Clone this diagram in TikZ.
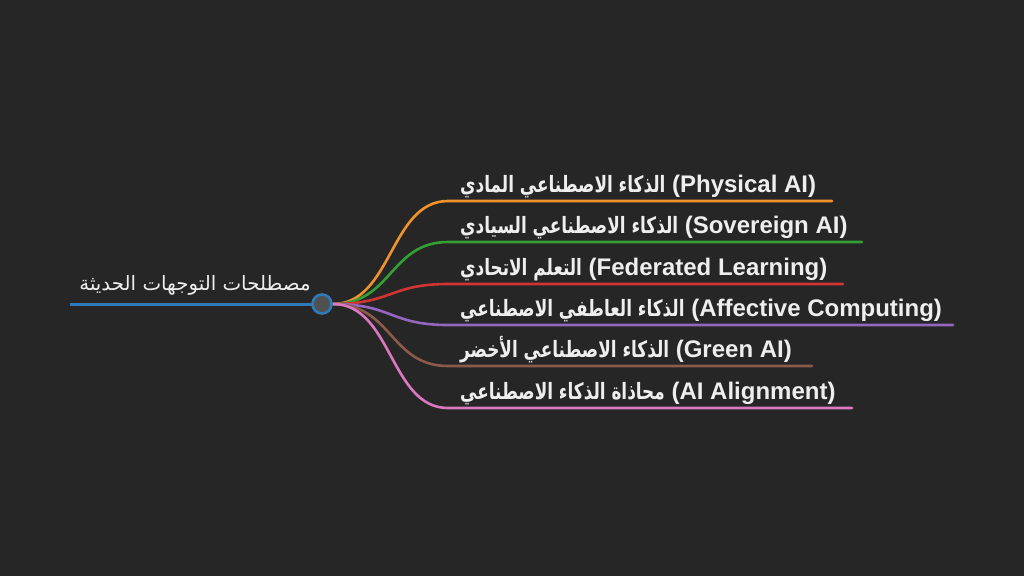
\documentclass[tikz,border=0pt]{standalone}
\usepackage{fontspec}
\setmainfont{Liberation Sans}
\newfontfamily\arabicfont[Script=Arabic, FakeStretch=0.75]{DejaVu Sans}
\newfontfamily\arabicroot[Script=Arabic]{DejaVu Sans}
\TeXXeTstate=1
\definecolor{bg}{HTML}{262626}
\definecolor{rootblue}{HTML}{2E7AB8}
\definecolor{circfill}{HTML}{505050}
\definecolor{cOrange}{HTML}{F0932B}
\definecolor{cGreen}{HTML}{32A032}
\definecolor{cRed}{HTML}{D03434}
\definecolor{cPurple}{HTML}{9466BE}
\definecolor{cBrown}{HTML}{8C5A4B}
\definecolor{cPink}{HTML}{DC78C0}
\definecolor{txt}{HTML}{EEEEEE}
\newcommand{\ar}[1]{{\fontsize{22.5}{26}\arabicfont\bfseries\beginR #1\endR}}
\tikzset{
  lbl/.style={anchor=base west, inner sep=0pt, text=txt, font=\fontsize{24}{28}\selectfont\bfseries},
  rootlbl/.style={anchor=base, inner sep=0pt, text=txt, font=\fontsize{19.8}{23}\selectfont\arabicroot},
  branch/.style={line width=2.6pt, line cap=round},
}
\begin{document}
\begin{tikzpicture}[x=1pt,y=-1pt]
\fill[bg] (0,0) rectangle (1024,576);
\useasboundingbox (0,0) rectangle (1024,576);
% root
\coordinate (rs) at (70,304);
\node[circle, minimum size=18pt, inner sep=0pt] (hub) at (322,304) {};
\coordinate (hc) at (333,304);
\node[rootlbl] (root) at (195,290) {\beginR مصطلحات التوجهات الحديثة\endR};
% branch end coordinates
\coordinate (b1) at (448,201); \coordinate (e1) at (832,201);
\coordinate (b2) at (448,242); \coordinate (e2) at (862,242);
\coordinate (b3) at (448,284); \coordinate (e3) at (843,284);
\coordinate (b4) at (448,325); \coordinate (e4) at (953,325);
\coordinate (b5) at (448,366); \coordinate (e5) at (812,366);
\coordinate (b6) at (448,408); \coordinate (e6) at (852,408);
% branches
\draw[branch, cOrange] (hc) .. controls (392,304) and (390,201) .. (b1) -- (e1);
\draw[branch, cGreen] (hc) .. controls (392,304) and (390,242) .. (b2) -- (e2);
\draw[branch, cRed] (hc) .. controls (392,304) and (390,284) .. (b3) -- (e3);
\draw[branch, cPurple] (hc) .. controls (392,304) and (390,325) .. (b4) -- (e4);
\draw[branch, cBrown] (hc) .. controls (392,304) and (390,366) .. (b5) -- (e5);
\draw[branch, cPink] (hc) .. controls (392,304) and (390,408) .. (b6) -- (e6);
% root line and hub
\draw[line width=3pt, rootblue] (rs) -- (hub.west);
\draw[line width=2.6pt, rootblue, fill=circfill] (hub.center) circle (9.5pt);
% labels
\node[lbl] (t1) at (460,192) {\ar{الذكاء الاصطناعي المادي} (Physical AI)};
\node[lbl] (t2) at (460,233) {\ar{الذكاء الاصطناعي السيادي} (Sovereign AI)};
\node[lbl] (t3) at (460,275) {\ar{التعلم الاتحادي} (Federated Learning)};
\node[lbl] (t4) at (460,316) {\ar{الذكاء العاطفي الاصطناعي} (Affective Computing)};
\node[lbl] (t5) at (460,357) {\ar{الذكاء الاصطناعي الأخضر} (Green AI)};
\node[lbl] (t6) at (460,399) {\ar{محاذاة الذكاء الاصطناعي} (AI Alignment)};
\end{tikzpicture}
\end{document}
